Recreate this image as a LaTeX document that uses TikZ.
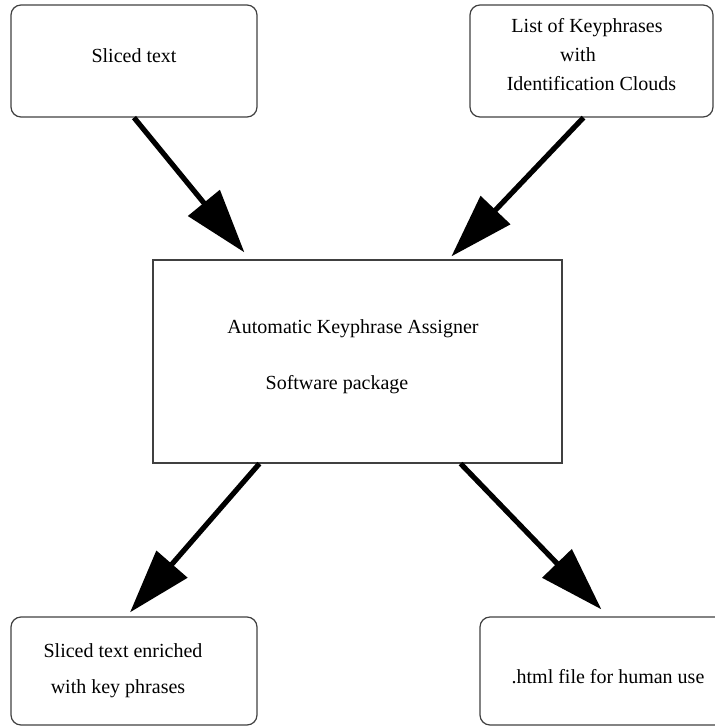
\documentclass[tikz,border=0pt]{standalone}
\usepackage{fontspec}
\setmainfont{Liberation Serif}
\usetikzlibrary{arrows.meta}
\newcommand\lift[2]{\raisebox{#1}[\height][\depth]{\begin{tabular}{@{}c@{}}#2\end{tabular}}}

\begin{document}
\begin{tikzpicture}[x=0.5pt,y=-0.5pt,>={Triangle[length=32pt,width=20pt]},
  box/.style={draw=black!75,line width=0.6pt,rounded corners=5pt,inner sep=0pt,font=\fontsize{10}{12}\selectfont},
  sq/.style={box,rounded corners=0pt},
  big/.style={->,line width=2.6pt}]
\useasboundingbox (0,0) rectangle (714,727);
\node[box,minimum width=123pt,minimum height=56pt] (ST) at (134,61) {\lift{1.5pt}{Sliced text}};
\node[box,minimum width=121.5pt,minimum height=56pt] (KL) at (591.5,61) {\lift{2.3pt}{List of Keyphrases\hspace*{0.45em}\\[2.5pt] with\hspace*{1.35em}\\[2.5pt] Identification Clouds}};
\node[sq,minimum width=204.5pt,minimum height=101.5pt] (AKA) at (357.5,361.5) {\lift{2.3pt}{Automatic Keyphrase Assigner\hspace*{0.45em}\\[16pt] Software package\hspace*{2.05em}}};
\node[box,minimum width=123pt,minimum height=54pt] (STE) at (134,671) {\lift{0pt}{Sliced text enriched\hspace*{1.1em}\\[6pt] with key phrases\hspace*{1.6em}}};
\node[box,minimum width=128pt,minimum height=54pt] (HTML) at (608,671) {\lift{-4pt}{.html file for human use}};
\draw[big] (ST.south) -- ([xshift=46pt,yshift=3.5pt]AKA.north west);
\draw[big] ([xshift=-4pt]KL.south) -- ([xshift=149.5pt,yshift=1.5pt]AKA.north west);
\draw[big] ([xshift=53.5pt]AKA.south west) -- ([xshift=-2pt,yshift=2pt]STE.north);
\draw[big] ([xshift=-51pt]AKA.south east) -- ([xshift=61pt,yshift=3.5pt]HTML.north west);
\end{tikzpicture}
\end{document}
